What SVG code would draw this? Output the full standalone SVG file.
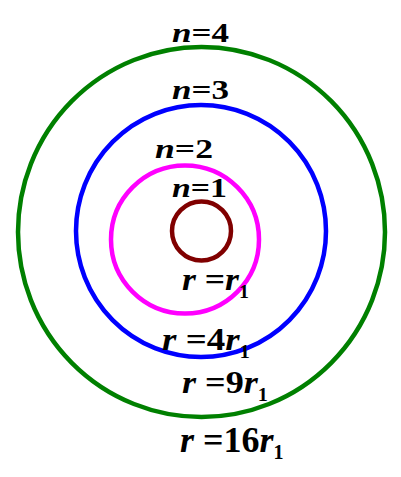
<svg xmlns="http://www.w3.org/2000/svg" width="401" height="477" viewBox="0 0 401 477">
<style>
.orb{fill:none;stroke-width:4.5}
.lbl{font-family:"Liberation Serif","Times New Roman",serif;font-weight:bold;fill:#000}
.it{font-style:italic}
</style>
<rect width="401" height="477" fill="#fff"/>
<g id="orbit4">
<ellipse class="orb" cx="201.5" cy="232" rx="183.5" ry="185" stroke="#008000"/>
<text class="lbl" font-size="27" x="172" y="42" textLength="57" lengthAdjust="spacingAndGlyphs"><tspan class="it">n</tspan>=4</text>
<text class="lbl" font-size="36" x="180" y="452"><tspan class="it">r</tspan> =16<tspan class="it">r</tspan><tspan font-size="20" dy="7">1</tspan></text>
</g>
<g id="orbit3">
<ellipse class="orb" cx="201" cy="231" rx="125" ry="126" stroke="#0000ff"/>
<text class="lbl" font-size="27" x="172" y="99" textLength="57" lengthAdjust="spacingAndGlyphs"><tspan class="it">n</tspan>=3</text>
<text class="lbl" font-size="32" x="182" y="393" textLength="86" lengthAdjust="spacingAndGlyphs"><tspan class="it">r</tspan> =9<tspan class="it">r</tspan><tspan font-size="18" dy="8">1</tspan></text>
</g>
<g id="orbit2">
<circle class="orb" cx="185" cy="239.5" r="74" stroke="#ff00ff"/>
<text class="lbl" font-size="27" x="155" y="158" textLength="58" lengthAdjust="spacingAndGlyphs"><tspan class="it">n</tspan>=2</text>
<text class="lbl" font-size="32" x="162" y="350" textLength="88" lengthAdjust="spacingAndGlyphs"><tspan class="it">r</tspan> =4<tspan class="it">r</tspan><tspan font-size="18" dy="8">1</tspan></text>
</g>
<g id="orbit1">
<circle class="orb" cx="201.5" cy="231" r="29.5" stroke="#800000" stroke-width="4"/>
<text class="lbl" font-size="27" x="172" y="197" textLength="55" lengthAdjust="spacingAndGlyphs"><tspan class="it">n</tspan>=1</text>
<text class="lbl" font-size="32" x="182" y="290" textLength="67" lengthAdjust="spacingAndGlyphs"><tspan class="it">r</tspan> =<tspan class="it">r</tspan><tspan font-size="18" dy="8">1</tspan></text>
</g>
</svg>
